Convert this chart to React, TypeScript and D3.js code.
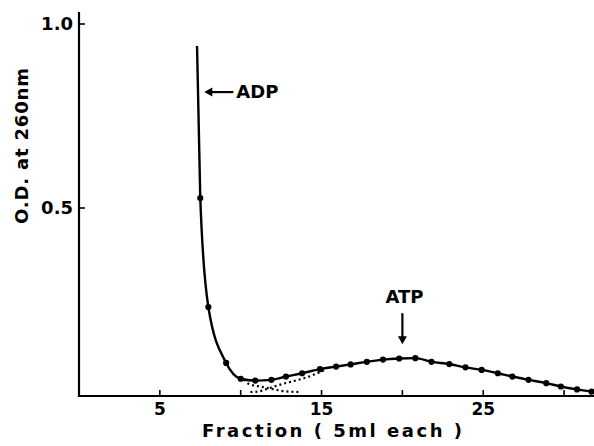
import React, { useRef, useEffect } from 'react';
import * as d3 from 'd3';

// elution profile (fraction no. vs O.D. at 260 nm)
const fractions = [7.3, 7.5, 8.0, 9.1, 10.0, 10.9, 11.9, 12.8, 13.8, 14.9, 15.9, 16.8, 17.8, 18.8, 19.8, 20.8, 21.8, 22.9, 23.9, 24.9, 25.9, 26.8, 27.8, 28.9, 29.8, 30.8, 31.7];
const od260 = [0.94, 0.527, 0.231, 0.079, 0.036, 0.031, 0.033, 0.042, 0.051, 0.062, 0.069, 0.075, 0.082, 0.088, 0.091, 0.092, 0.082, 0.076, 0.067, 0.060, 0.051, 0.042, 0.033, 0.024, 0.015, 0.007, 0.001];
// first point of the line carries no marker
const hasMarker = fractions.map((_, i) => i > 0);

// dotted resolution of the two overlapping peaks
const adpTailF = [10.2, 10.5, 11.3, 12.0, 12.7, 13.6];
const adpTailV = [0.034, 0.022, 0.014, 0.008, 0.002, 0.0];
const atpFrontF = [10.6, 11.05, 11.8, 12.6, 13.3, 14.1, 15.3];
const atpFrontV = [0.0, 0.001, 0.011, 0.022, 0.03, 0.04, 0.062];

const xTicks = [5, 10, 15, 20, 25, 30];
const xTickLabels = ['5', '', '15', '', '25', ''];
const yTicks = [0.5, 1.0];
const yTickLabels = ['0.5', '1.0'];

const FONT = '"DejaVu Sans", sans-serif';

const ElutionChart = () => {
  const ref = useRef<SVGSVGElement>(null);

  useEffect(() => {
    const svg = d3.select(ref.current);
    svg.selectAll('*').remove();

    const width = 594;
    const height = 446;
    const left = 79;
    const axisY = 396;

    const x = d3.scaleLinear().domain([0, 31.85]).range([left, width]);
    const y = d3.scaleLinear().domain([0, 1]).range([392, 24]);

    svg.attr('width', width).attr('height', height);

    // axes
    const g = svg.append('g').attr('stroke', '#000').attr('fill', 'none');
    g.append('line')
      .attr('x1', left).attr('x2', left)
      .attr('y1', 12).attr('y2', axisY + 1)
      .attr('stroke-width', 2.2);
    g.append('line')
      .attr('x1', left - 1).attr('x2', width)
      .attr('y1', axisY).attr('y2', axisY)
      .attr('stroke-width', 2.2);

    g.selectAll('.xt')
      .data(xTicks)
      .enter()
      .append('line')
      .attr('x1', (d) => x(d)).attr('x2', (d) => x(d))
      .attr('y1', axisY).attr('y2', axisY - 6)
      .attr('stroke-width', 1.6);

    g.selectAll('.yt')
      .data(yTicks)
      .enter()
      .append('line')
      .attr('x1', left).attr('x2', left + 6)
      .attr('y1', (d) => y(d)).attr('y2', (d) => y(d))
      .attr('stroke-width', 1.6);

    const txt = svg.append('g')
      .attr('font-family', FONT)
      .attr('font-weight', 'bold')
      .attr('fill', '#000');

    txt.selectAll('.xl')
      .data(xTicks)
      .enter()
      .append('text')
      .attr('x', (d) => x(d))
      .attr('y', 415)
      .attr('font-size', 17)
      .attr('text-anchor', 'middle')
      .text((_, i) => xTickLabels[i]);

    txt.selectAll('.yl')
      .data(yTicks)
      .enter()
      .append('text')
      .attr('x', left - 6)
      .attr('y', (d) => y(d))
      .attr('dy', '0.36em')
      .attr('font-size', 18)
      .attr('text-anchor', 'end')
      .text((_, i) => yTickLabels[i]);

    txt.append('text')
      .attr('x', 332)
      .attr('y', 437)
      .attr('font-size', 18)
      .attr('text-anchor', 'middle')
      .attr('textLength', 260)
      .attr('lengthAdjust', 'spacing')
      .text('Fraction ( 5ml each )');

    txt.append('text')
      .attr('transform', 'translate(28,146) rotate(-90)')
      .attr('font-size', 18)
      .attr('text-anchor', 'middle')
      .attr('textLength', 156)
      .attr('lengthAdjust', 'spacing')
      .text('O.D. at 260nm');

    // main curve
    const pts = fractions.map((f, i) => ({ f, v: od260[i], m: hasMarker[i] }));
    const line = d3
      .line<{ f: number; v: number }>()
      .x((d) => x(d.f))
      .y((d) => y(d.v))
      .curve(d3.curveMonotoneX);

    svg.append('path')
      .datum(pts)
      .attr('fill', 'none')
      .attr('stroke', '#000')
      .attr('stroke-width', 2.4)
      .attr('d', line);

    svg.selectAll('.pt')
      .data(pts.filter((d) => d.m))
      .enter()
      .append('circle')
      .attr('cx', (d) => x(d.f))
      .attr('cy', (d) => y(d.v))
      .attr('r', 3.1)
      .attr('fill', '#000');

    // dotted deconvolution lines
    const dotted = [
      adpTailF.map((f, i) => ({ f, v: adpTailV[i] })),
      atpFrontF.map((f, i) => ({ f, v: atpFrontV[i] })),
    ];
    svg.selectAll('.dot')
      .data(dotted)
      .enter()
      .append('path')
      .attr('fill', 'none')
      .attr('stroke', '#000')
      .attr('stroke-width', 2.2)
      .attr('stroke-dasharray', '2 3')
      .attr('d', (d) => line(d));

    // ADP annotation
    const ax = x(7.75);
    const ay = y(0.815);
    svg.append('line')
      .attr('x1', ax + 4).attr('x2', ax + 29)
      .attr('y1', ay).attr('y2', ay)
      .attr('stroke', '#000').attr('stroke-width', 2.2);
    svg.append('path')
      .attr('d', `M${ax},${ay} l8,-4.5 l0,9 z`)
      .attr('fill', '#000');
    txt.append('text')
      .attr('x', ax + 32)
      .attr('y', ay + 6)
      .attr('font-size', 18)
      .text('ADP');

    // ATP annotation
    const tx = x(20.0);
    const ty = y(0.13);
    svg.append('line')
      .attr('x1', tx).attr('x2', tx)
      .attr('y1', ty - 4).attr('y2', ty - 31)
      .attr('stroke', '#000').attr('stroke-width', 2.2);
    svg.append('path')
      .attr('d', `M${tx},${ty} l-4.5,-8 l9,0 z`)
      .attr('fill', '#000');
    txt.append('text')
      .attr('x', tx + 2)
      .attr('y', ty - 41)
      .attr('font-size', 18)
      .attr('text-anchor', 'middle')
      .text('ATP');
  }, []);

  return <svg ref={ref} style={{ position: 'absolute', left: 0, top: 0 }}></svg>;
};

export default function App() {
  return <ElutionChart />;
}
